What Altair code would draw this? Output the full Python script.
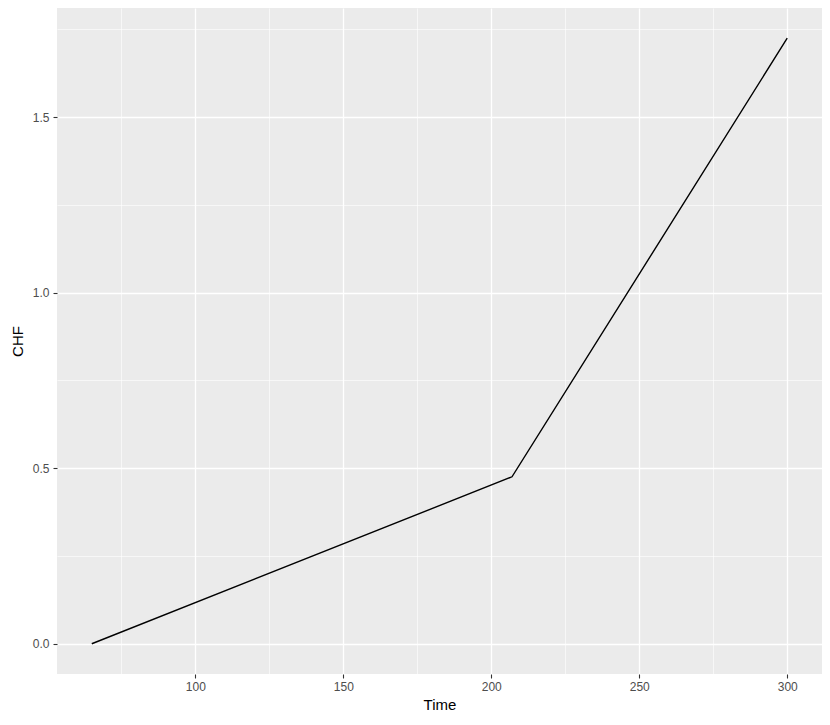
import altair as alt
import pandas as pd

time = [65, 207, 300]
chf = [0.0, 0.4756, 1.725]

x_major = [100, 150, 200, 250, 300]
x_minor = [75, 125, 175, 225, 275]
y_major = [0.0, 0.5, 1.0, 1.5]
y_minor = [0.25, 0.75, 1.25, 1.75]

df = pd.DataFrame({"Time": time, "CHF": chf})

xdom = [53.25, 311.75]
ydom = [-0.0862, 1.811]
FONT = "Liberation Sans"

xs = alt.Scale(domain=xdom, nice=False, zero=False)
ys = alt.Scale(domain=ydom, nice=False, zero=False)

minor = alt.Chart(df).mark_line(opacity=0).encode(
    x=alt.X("Time:Q", scale=xs, axis=alt.Axis(
        values=x_minor, grid=True, gridColor="white", gridWidth=0.6,
        labels=False, ticks=False, domain=False, title=None, orient="top")),
    y=alt.Y("CHF:Q", scale=ys, axis=alt.Axis(
        values=y_minor, grid=True, gridColor="white", gridWidth=0.6,
        labels=False, ticks=False, domain=False, title=None, orient="right")),
)

main = alt.Chart(df).mark_line(color="black", strokeWidth=1.4).encode(
    x=alt.X("Time:Q", scale=xs, axis=alt.Axis(
        values=x_major, grid=True, gridColor="white", gridWidth=1.3,
        domain=False, tickColor="#333333", tickSize=4, tickWidth=1.1,
        labelColor="#4D4D4D", labelFontSize=12, labelFont=FONT, labelPadding=3,
        title="Time", titleFont=FONT, titleFontSize=15, titleFontWeight="normal",
        titleColor="black", titlePadding=5)),
    y=alt.Y("CHF:Q", scale=ys, axis=alt.Axis(
        values=y_major, grid=True, gridColor="white", gridWidth=1.3,
        domain=False, tickColor="#333333", tickSize=4, tickWidth=1.1,
        labelColor="#4D4D4D", labelFontSize=12, labelFont=FONT, labelPadding=4,
        format=".1f",
        title="CHF", titleFont=FONT, titleFontSize=15, titleFontWeight="normal",
        titleColor="black", titlePadding=7)),
)

chart = alt.layer(minor, main).resolve_axis(x="independent", y="independent").properties(
    width=765, height=666,
    autosize=alt.AutoSizeParams(type="none"),
    padding={"left": 49, "top": 0, "right": 0, "bottom": 43},
    background="white",
).configure_view(fill="#EBEBEB", stroke=None)

chart.save("out.html", embed_options={"renderer": "svg", "actions": False})
